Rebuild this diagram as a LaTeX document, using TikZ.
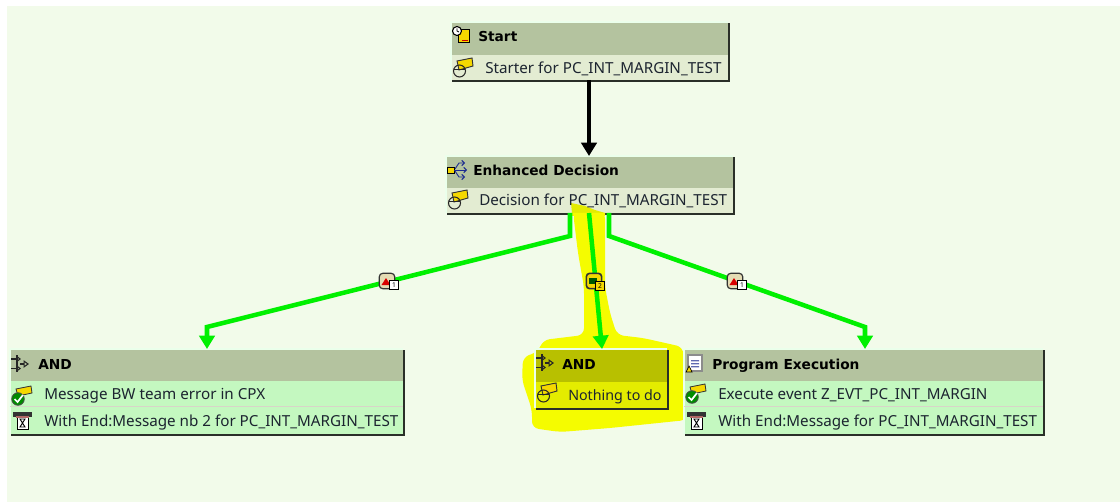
\documentclass[tikz,border=0pt]{standalone}
\usepackage{fontspec}
\setmainfont{Noto Sans}
\newfontfamily\boldf[BoldFont={DejaVu Sans Bold}]{DejaVu Sans}
\usetikzlibrary{calc,arrows.meta}
\definecolor{bgc}{HTML}{F2FBEA}
\definecolor{headc}{HTML}{B4C39F}
\definecolor{bodyc}{HTML}{E3ECD2}
\definecolor{greenc}{HTML}{C4F8C0}
\definecolor{linec}{HTML}{00F000}
\definecolor{shadc}{HTML}{2A2F28}
\definecolor{txt}{HTML}{1C2430}
\definecolor{icony}{HTML}{F5D800}
\definecolor{iconb}{HTML}{1A2A90}
\definecolor{badgec}{HTML}{E4DCB4}
\definecolor{sepc}{HTML}{D8D4C8}
\definecolor{hiy}{HTML}{F5FC00}
\definecolor{hihead}{HTML}{B8C000}
\definecolor{hibody}{HTML}{E4EC00}
\tikzset{
  x=0.75pt,y=-0.75pt,
  panel/.style={anchor=north west,inner sep=0pt,outer sep=0pt,draw=none},
  title/.style={anchor=west,inner sep=0pt,text=black,text height=10pt,text depth=2pt,font=\boldf\bfseries\fontsize{10.3}{12}\selectfont},
  rowt/.style={anchor=west,inner sep=0pt,text=txt,text height=10pt,text depth=2pt,font=\fontsize{11.4}{12}\selectfont},
  flow/.style={draw=linec,line width=3.4pt,-{Triangle[width=11.5pt,length=10pt]},line join=miter},
  blackflow/.style={draw=black,line width=3.4pt,-{Triangle[width=11.5pt,length=10pt]}},
  badge/.style={draw=black!80,line width=0.9pt,rounded corners=2.5pt,minimum size=11.5pt,inner sep=0pt,fill=badgec},
  numb/.style={draw=black,line width=0.5pt,fill=white,inner sep=0pt,minimum size=6.4pt,font=\fontsize{5}{5}\selectfont\bfseries},
  andline/.style={black!85,line width=0.8pt},
}
% box edges: light top/left, dark right/bottom
\newcommand{\boxedge}[1]{%
  \draw[white!92!green,line width=0.8pt] (#1.south west)--(#1.north west)--(#1.north east);
  \fill[shadc] ($(#1.north east)+(0,1)$) rectangle ($(#1.south east)+(2,2)$);
  \fill[shadc] ($(#1.south west)+(1,0)$) rectangle ($(#1.south east)+(2,2)$);
}
\newcommand{\iconnote}[2]{\begin{scope}[shift={(#1,#2)}]
  \fill[icony,draw=black!80,line width=0.7pt] (4,3)--(19,0)--(20,8)--(6,12)--cycle;
  \draw[black!85,line width=0.8pt] (6.5,13) circle (6);
  \draw[black!85,line width=0.8pt] (1,11.5)--(12,11.5);
\end{scope}}
\newcommand{\iconcheck}[2]{\begin{scope}[shift={(#1,#2)}]
  \fill[icony,draw=black!80,line width=0.6pt] (4,3)--(19,0)--(20,7)--(6,10)--cycle;
  \fill[green!55!black,draw=black!70,line width=0.6pt] (6,13) circle (6.3);
  \draw[white,line width=1.3pt] (2.5,13)--(5.5,16)--(11,9);
\end{scope}}
\newcommand{\iconwait}[2]{\begin{scope}[shift={(#1,#2)}]
  \fill[white,draw=black,line width=0.6pt] (4,5) rectangle (15,17);
  \fill[black!80] (0,0) rectangle (19,5);
  \fill[red!50!black!60] (3,4) rectangle (16,6);
  \draw[black,line width=0.7pt] (7,7)--(12,15)--(7,15)--(12,7)--cycle;
\end{scope}}
\newcommand{\iconand}[2]{\begin{scope}[shift={(#1,#2)}]
  \draw[andline,-{Triangle[open,width=5pt,length=3.5pt]}] (0,4)--(10,4);
  \draw[andline,-{Triangle[open,width=5pt,length=3.5pt]}] (0,13.5)--(10,13.5);
  \draw[andline] (6,0)--(6,17);
  \draw[andline,-{Triangle[open,width=5.5pt,length=4pt]}] (9,9)--(18,9);
\end{scope}}
\begin{document}
\begin{tikzpicture}
\useasboundingbox (0,0) rectangle (1120,502);
\fill[white] (0,0) rectangle (1120,502);
\fill[bgc] (7,6) rectangle (1120,502);

% ---- yellow highlight (under the boxes) ----
\fill[hiy,line join=round,rounded corners=5pt]
  (573,212)--(605,212)--(605,287)--(610,313)--(617,335)--(643,338)--(683,347)
  --(685,385)--(687,420)--(610,428)--(560,432)--(532,428)--(532,410)--(522,380)--(523,357)
  --(538,352)--(543,340)--(584,335)--(584,287)--(578,253)--cycle;

% ---- boxes ----
\node[panel,fill=bodyc,minimum width=277*0.75pt,minimum height=58*0.75pt] (start) at (451,22) {};
\node[panel,fill=headc,minimum width=277*0.75pt,minimum height=33*0.75pt] (startH) at (451,22) {};
\node[panel,fill=bodyc,minimum width=287*0.75pt,minimum height=57*0.75pt] (dec) at (446,156) {};
\node[panel,fill=headc,minimum width=287*0.75pt,minimum height=32*0.75pt] (decH) at (446,156) {};
\node[panel,fill=greenc,minimum width=393*0.75pt,minimum height=85*0.75pt] (andL) at (10,349) {};
\node[panel,fill=headc,minimum width=393*0.75pt,minimum height=32*0.75pt] (andLH) at (10,349) {};
\node[panel,fill=hibody,minimum width=132*0.75pt,minimum height=59*0.75pt] (andM) at (535,349) {};
\node[panel,fill=hihead,minimum width=132*0.75pt,minimum height=33*0.75pt] (andMH) at (535,349) {};
\node[panel,fill=greenc,minimum width=359*0.75pt,minimum height=85*0.75pt] (prog) at (684,349) {};
\node[panel,fill=headc,minimum width=359*0.75pt,minimum height=32*0.75pt] (progH) at (684,349) {};
\foreach \b in {start,dec,andM,andL,prog}{\boxedge{\b}}
\draw[sepc,line width=0.6pt] (andL.west |- 0,406) -- (andL.east |- 0,406);
\draw[sepc,line width=0.6pt] (prog.west |- 0,406) -- (prog.east |- 0,406);
% highlight stroke where it runs over the Decision box
\fill[hibody] (571,203)--(585,206)--(595,210)--(605,213)--(572,213)--cycle;
\fill[hiy] (571,213)--(605,213)--(605,216)--(572,216)--cycle;

% ---- texts ----
\node[title] (t1) at (478,36) {Start};
\node[rowt] (r1) at (485,68) {Starter for PC\_INT\_MARGIN\_TEST};
\node[title] (t2) at (473,170) {Enhanced Decision};
\node[rowt] (r2) at (479,200) {Decision for PC\_INT\_MARGIN\_TEST};
\node[title] (t3) at (38,364) {AND};
\node[rowt] (r3) at (44,394) {Message BW team error in CPX};
\node[rowt] (r4) at (44,421) {With End:Message nb 2 for PC\_INT\_MARGIN\_TEST};
\node[title] (t4) at (562,364) {AND};
\node[rowt,font=\fontsize{10.7}{12}\selectfont] (r5) at (568,395) {Nothing to do};
\node[title] (t5) at (712,364) {Program Execution};
\node[rowt] (r6) at (718,394) {Execute event Z\_EVT\_PC\_INT\_MARGIN};
\node[rowt] (r7) at (718,421) {With End:Message for PC\_INT\_MARGIN\_TEST};

% ---- icons ----
\begin{scope}[shift={(452,26)}]
  \fill[icony,draw=black,line width=0.7pt] (6,3) rectangle (17,16);
  \fill[red!80!black] (10,14) rectangle (16,15.5);
  \fill[white,draw=black,line width=0.8pt] (5,5) circle (4.5);
  \draw[black,line width=0.6pt] (5,2.5)--(5,5)--(7,6);
\end{scope}
\iconnote{453}{58}
\begin{scope}[shift={(447,161)}]
  \fill[icony,draw=black,line width=0.6pt] (0,6) rectangle (7,12);
  \draw[iconb,line width=0.7pt,-{Straight Barb[length=2pt,width=4pt]}] (7,9)--(20,9);
  \draw[iconb,line width=0.7pt,-{Straight Barb[length=2pt,width=4pt]}] (8,8)--(12,2)--(18,2);
  \draw[iconb,line width=0.7pt,-{Straight Barb[length=2pt,width=4pt]}] (8,10)--(12,16)--(18,16);
\end{scope}
\iconnote{448}{190}
\iconand{11}{355}
\iconcheck{12}{386}
\iconwait{13}{412}
\iconand{536}{354}
\iconnote{537}{383}
\begin{scope}[shift={(686,355)}]
  \fill[white,draw=black!45,line width=0.9pt] (2,0) rectangle (16,16);
  \fill[iconb!70] (5,5) rectangle (13,6.4) (5,8) rectangle (13,9.4) (5,11) rectangle (13,12.4);
  \fill[icony,draw=black,line width=0.5pt] (0,17)--(6,17)--(3,11)--cycle;
\end{scope}
\iconcheck{686}{384}
\iconwait{687}{412}

% ---- connectors ----
\coordinate (sOut) at (start.south -| 589,0);
\coordinate (dIn) at (dec.north -| 589,0);
\draw[blackflow] (sOut) -- (dIn);
\coordinate (dL) at (dec.south -| 570,0);
\coordinate (dM) at (dec.south -| 589,0);
\coordinate (dR) at (dec.south -| 609,0);
\coordinate (aL) at (andL.north -| 207,0);
\coordinate (aM) at (andM.north -| 602,0);
\coordinate (aR) at (prog.north -| 865,0);
\draw[flow] (dL) -- ++(0,23) -- (207,327) -- (aL);
\draw[flow] (dM) -- (aM);
\draw[flow] (dR) -- ++(0,23) -- (865,327) -- (aR);

% ---- badges ----
\node[badge] (b1) at (387,281) {};
\fill[red!85!black] (381.5,285)--(386,278)--(390.5,285)--cycle;
\node[numb] (n1) at (394,285) {1};
\node[badge,fill=icony,line width=1.2pt] (b2) at (594,281) {};
\fill[green!35!black] (589,277.5) rectangle (597,284);
\node[numb,fill=icony] (n2) at (600,286) {2};
\node[badge] (b3) at (735,281) {};
\fill[red!85!black] (729.5,285)--(734,278)--(738.5,285)--cycle;
\node[numb] (n3) at (742,285) {1};
\end{tikzpicture}
\end{document}
